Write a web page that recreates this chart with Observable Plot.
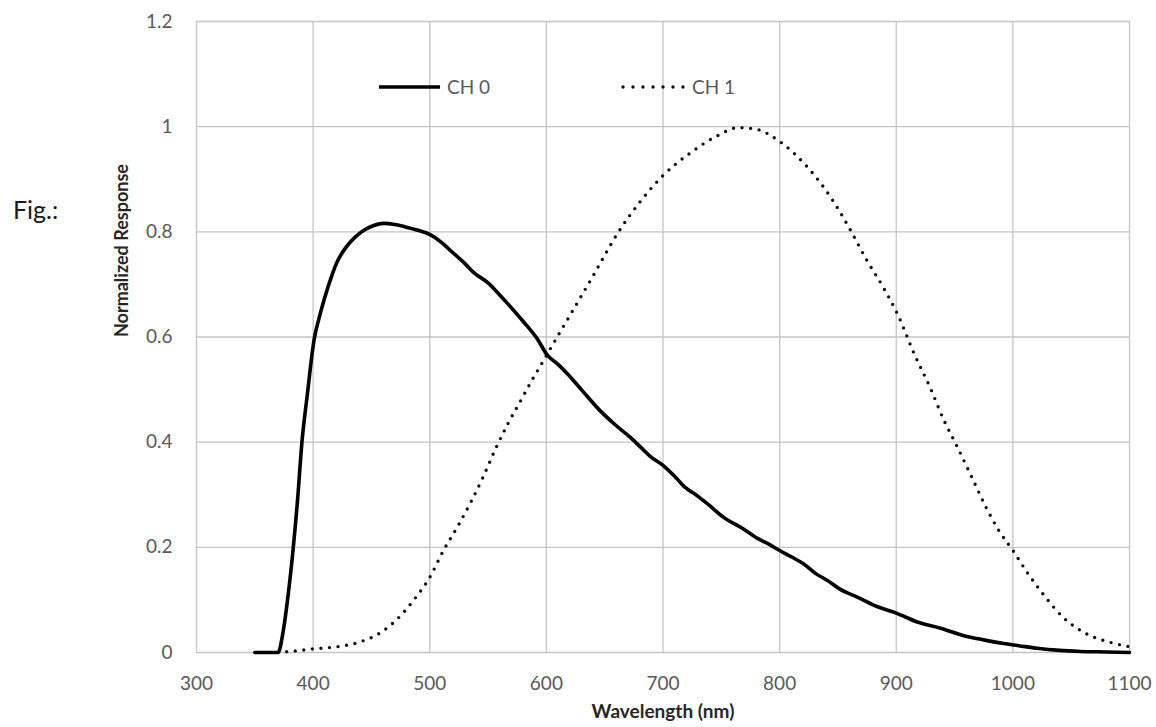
<!DOCTYPE html>
<html>
<head>
<meta charset="utf-8">
<script src="https://cdn.jsdelivr.net/npm/d3@7"></script>
<script src="https://cdn.jsdelivr.net/npm/@observablehq/plot@0.6"></script>
<style>
  html, body { margin: 0; padding: 0; background: #fff; }
  #wrap { position: relative; width: 1156px; height: 727px; font-family: Lato, "Open Sans", sans-serif; }
  #overlay { position: absolute; left: 0; top: 0; pointer-events: none; }
</style>
</head>
<body>
<div id="wrap"></div>
<script>
// ---- data ----
const ch0Wavelength = [350,360,370,374,378,383,387,390,395,401,405,410,415,420,428,436,445,452,460,470,478,490,500,510,518,530,538,550,560,567,580,592,601,610,618,630,646,658,672,681,689,700,710,718,730,738,752,769,781,790,800,810,821,831,841,852,867,884,900,918,938,958,975,992,1005,1021,1040,1058,1080,1100];
const ch0Response   = [0,0,0,0.036,0.099,0.2,0.3,0.39,0.49,0.597,0.635,0.675,0.71,0.74,0.77,0.79,0.805,0.812,0.816,0.814,0.81,0.803,0.795,0.78,0.764,0.74,0.722,0.703,0.68,0.663,0.63,0.597,0.565,0.548,0.53,0.5,0.46,0.435,0.409,0.39,0.373,0.356,0.335,0.316,0.297,0.283,0.257,0.235,0.217,0.207,0.194,0.182,0.168,0.15,0.137,0.12,0.105,0.087,0.075,0.058,0.046,0.032,0.024,0.017,0.013,0.008,0.004,0.002,0.001,0];

const ch1Wavelength = [370,385,400,421,440,458,475,486,500,512,524,535,545,557,567,578,589,598,609,621,641,661,681,700,724,747,764,778,800,821,838,852,861,875,889,901,916,929,941,951,964,977,988,1000,1013,1027,1043,1061,1084,1100];
const ch1Response   = [0,0.003,0.007,0.011,0.02,0.038,0.07,0.099,0.143,0.195,0.24,0.285,0.33,0.39,0.435,0.479,0.523,0.557,0.599,0.644,0.72,0.797,0.859,0.907,0.951,0.983,0.998,0.996,0.972,0.93,0.884,0.837,0.802,0.745,0.694,0.644,0.565,0.504,0.441,0.397,0.337,0.276,0.232,0.194,0.15,0.108,0.067,0.038,0.019,0.011];

const seriesNames = ["CH 0", "CH 1"];
const xTicks = [300,400,500,600,700,800,900,1000,1100];
const yTicks = [0,0.2,0.4,0.6,0.8,1,1.2];
const yTickLabels = ["0","0.2","0.4","0.6","0.8","1","1.2"];
const xLabel = "Wavelength (nm)";
const yLabel = "Normalized Response";
const figLabel = "Fig.:";

// ---- build tables ----
const ch0 = ch0Wavelength.map((w, i) => ({w, r: ch0Response[i]}));
const ch1 = ch1Wavelength.map((w, i) => ({w, r: ch1Response[i]}));

const tickColor = "#595959";
const gridColor = "#c4c4c4";

const chart = Plot.plot({
  width: 1156,
  height: 727,
  marginLeft: 196,
  marginRight: 27,
  marginTop: 21,
  marginBottom: 75,
  style: {fontFamily: "Lato, 'Open Sans', sans-serif", background: "#fff"},
  x: {domain: [300, 1100], type: "linear"},
  y: {domain: [0, 1.2], type: "linear"},
  marks: [
    Plot.gridX(xTicks, {stroke: gridColor, strokeOpacity: 1, strokeWidth: 1.3}),
    Plot.gridY(yTicks, {stroke: gridColor, strokeOpacity: 1, strokeWidth: 1.3}),
    Plot.axisX(xTicks, {tickSize: 0, tickPadding: 24, fontSize: 19, fill: tickColor, label: null, tickFormat: d => String(d)}),
    Plot.axisY(yTicks, {tickSize: 0, tickPadding: 24, fontSize: 19, fill: tickColor, label: null, tickFormat: (d, i) => yTickLabels[i]}),
    Plot.line(ch1, {x: "w", y: "r", stroke: "#111", strokeWidth: 3.4, strokeDasharray: "0 8.6", strokeLinecap: "round", curve: "monotone-x"}),
    Plot.line(ch0, {x: "w", y: "r", stroke: "#000", strokeWidth: 3.6, curve: "monotone-x"}),
    Plot.text([xLabel], {frameAnchor: "bottom", dy: 65, fontSize: 19, fontWeight: "bold", fill: "#262626"}),
    Plot.text([yLabel], {frameAnchor: "left", dx: -74, rotate: -90, fontSize: 18, fontWeight: "bold", fill: "#262626"})
  ]
});

const wrap = document.getElementById("wrap");
wrap.appendChild(chart);

// ---- overlay: legend and figure label ----
const ov = d3.select(wrap).append("svg").attr("id", "overlay").attr("width", 1156).attr("height", 727);

ov.append("text").attr("x", 13).attr("y", 219).attr("font-size", 25).attr("fill", "#1a1a1a")
  .attr("font-family", "Lato, 'Open Sans', sans-serif").text(figLabel);

const legend = ov.append("g").attr("font-family", "Lato, 'Open Sans', sans-serif").attr("font-size", 19).attr("fill", tickColor);
// CH 0
legend.append("line").attr("x1", 379).attr("x2", 440).attr("y1", 87).attr("y2", 87)
  .attr("stroke", "#000").attr("stroke-width", 3.6);
legend.append("text").attr("x", 447).attr("y", 87).attr("dy", "0.36em").text(seriesNames[0]);
// CH 1
legend.append("line").attr("x1", 623).attr("x2", 684).attr("y1", 87).attr("y2", 87)
  .attr("stroke", "#111").attr("stroke-width", 3.4).attr("stroke-dasharray", "0 10").attr("stroke-linecap", "round");
legend.append("text").attr("x", 692).attr("y", 87).attr("dy", "0.36em").text(seriesNames[1]);
</script>
</body>
</html>
